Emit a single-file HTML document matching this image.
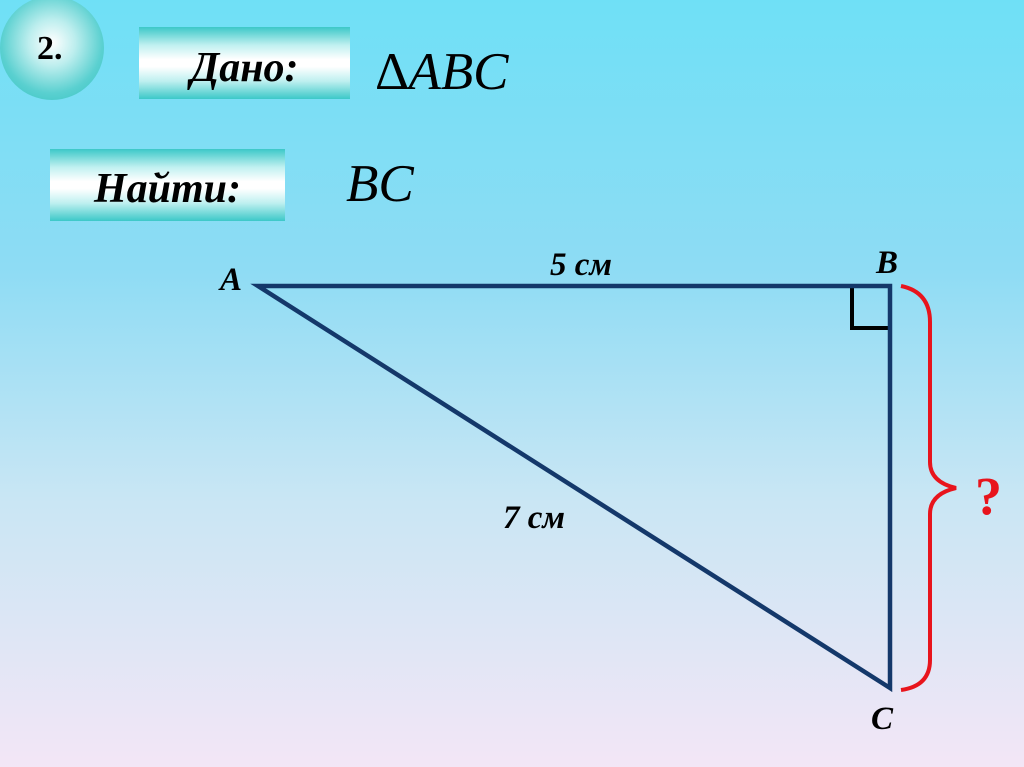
<!DOCTYPE html>
<html><head><meta charset="utf-8"><style>
body{margin:0;width:1024px;height:767px;overflow:hidden;background:linear-gradient(#6fe0f6 0%,#8edcf4 35%,#c9e6f4 65%,#f3e6f6 100%);position:relative;font-family:"Liberation Serif",serif}
.box{position:absolute;background:linear-gradient(#3cc8c8 0%,#bff0f0 25%,#ffffff 45%,#ffffff 55%,#bff0f0 75%,#3cc8c8 100%);font-weight:bold;font-style:italic;font-size:42px;text-align:center}
.circ{position:absolute;left:0px;top:-4px;width:104px;height:104px;border-radius:50%;background:radial-gradient(circle at 50% 45%,#ffffff 0%,#bdeeee 30%,#5ad0d0 65%,#2fbfbf 100%)}
.t{position:absolute;font-style:italic;white-space:nowrap}
</style></head><body>
<div class="circ"></div>
<div class="t" style="left:37px;top:30px;font-size:34px;font-weight:bold;font-style:normal">2.</div>
<div class="box" style="left:139px;top:27px;width:211px;height:72px;line-height:82px">Дано:</div>
<div class="box" style="left:50px;top:149px;width:235px;height:72px;line-height:80px">Найти:</div>
<div class="t" style="left:376px;top:42px;font-size:53px;font-style:normal">∆<i>ABC</i></div>
<div class="t" style="left:346px;top:154px;font-size:53px">BC</div>
<svg width="1024" height="767" style="position:absolute;left:0;top:0">
<polyline points="852,288 852,328 890,328" fill="none" stroke="#000" stroke-width="4"/>
<polygon points="258,286 890,286 890,688" fill="none" stroke="#14386a" stroke-width="4.5" stroke-linejoin="miter"/>
<path d="M901,286 Q930,292 930,322 L930,462 Q930,482 956,488 Q930,494 930,514 L930,660 Q930,686 901,690" fill="none" stroke="#e8141c" stroke-width="4"/>
<text x="220" y="290" font-family="Liberation Serif" font-style="italic" font-weight="bold" font-size="33">A</text>
<text x="876" y="273" font-family="Liberation Serif" font-style="italic" font-weight="bold" font-size="33">B</text>
<text x="871" y="729" font-family="Liberation Serif" font-style="italic" font-weight="bold" font-size="33">C</text>
<text x="550" y="275" font-family="Liberation Serif" font-style="italic" font-weight="bold" font-size="33">5 см</text>
<text x="503" y="528" font-family="Liberation Serif" font-style="italic" font-weight="bold" font-size="33">7 см</text>
<text x="975" y="514" font-family="Liberation Serif" font-weight="bold" font-size="54" fill="#e8141c">?</text>
</svg>
</body></html>
